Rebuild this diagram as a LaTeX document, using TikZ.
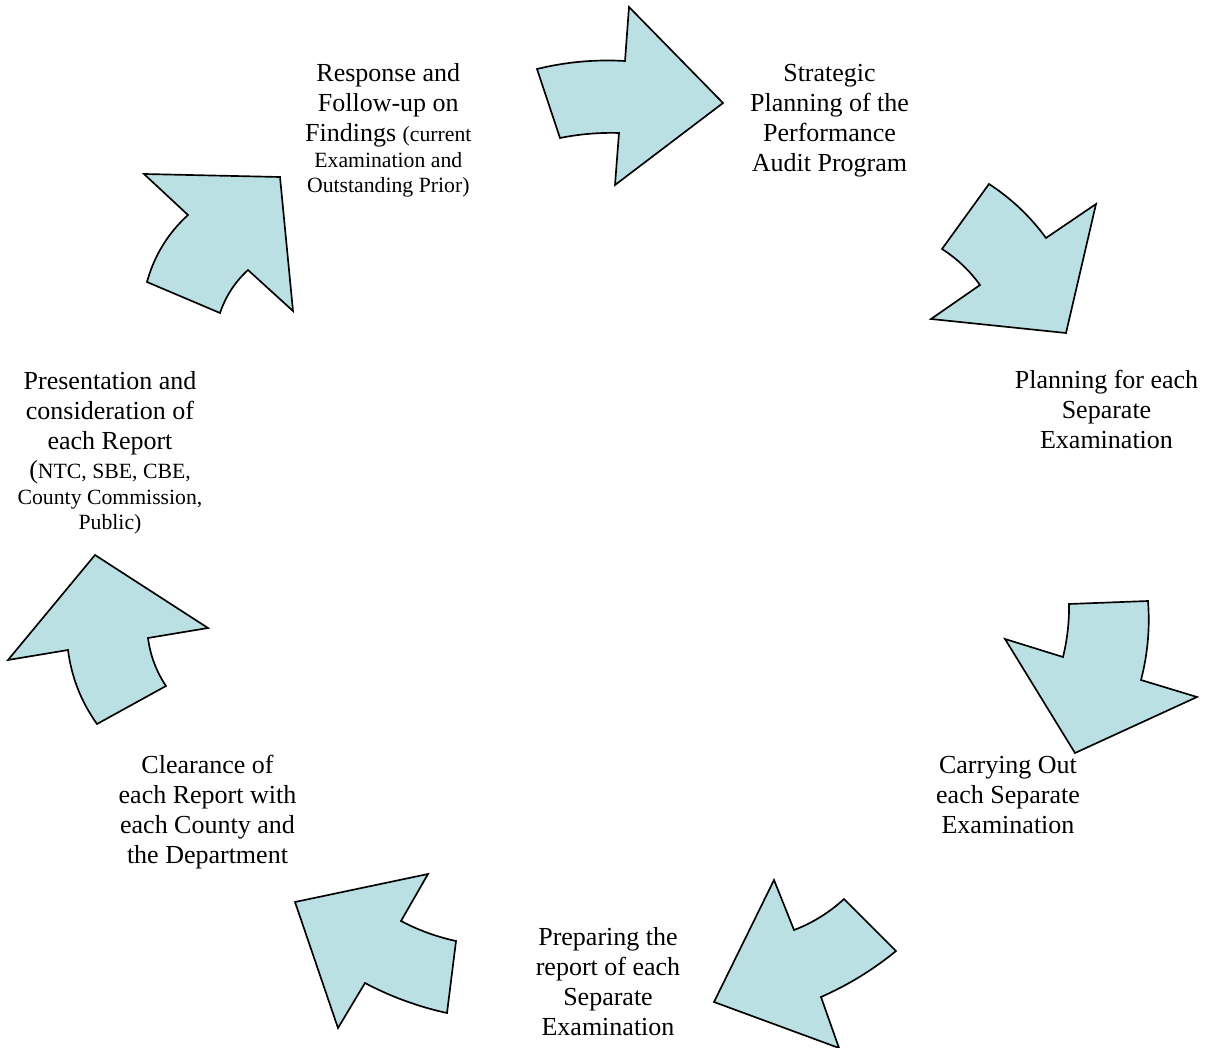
\documentclass[tikz,border=0pt]{standalone}
\usepackage{fontspec}
\setmainfont{Liberation Serif}
\usetikzlibrary{calc}
\definecolor{arrowfill}{HTML}{BBE0E3}
\newcommand{\lblbig}{\fontsize{19.5}{22.5}\selectfont}
\newcommand{\lblsmall}{\fontsize{16.3}{18.75}\selectfont}
\begin{document}
\begin{tikzpicture}[x=0.75pt,y=-0.75pt,
  arrowshape/.style={fill=arrowfill, draw=black, line width=1.25pt, line join=miter},
  lbl/.style={align=center, inner sep=0pt, font=\lblbig},
  arcto/.style args={#1 via #2}{insert path={.. controls ($(\tikztostart)!0.6667!(#2)$) and ($(#1)!0.6667!(#2)$) .. (#1)}}]
\useasboundingbox (0,0) rectangle (1217,1048);

% Arrow 1 (top, pointing right)
\draw[arrowshape] (537,69) .. controls ($(537,69)!0.6667!(580.4,58.4)$) and ($(625,61)!0.6667!(580.4,58.4)$) .. (625,61)
  -- (629,7) -- (723,103) -- (615,185) -- (619,133)
  .. controls ($(619,133)!0.6667!(589.2,132.1)$) and ($(560,138)!0.6667!(589.2,132.1)$) .. (560,138) -- cycle;
% Arrow 2 (upper right, pointing down-right)
\draw[arrowshape] (989,184) .. controls ($(989,184)!0.6667!(1022.5,205.8)$) and ($(1046,238)!0.6667!(1022.5,205.8)$) .. (1046,238)
  -- (1096,204) -- (1066,333) -- (931,319) -- (980,285)
  .. controls ($(980,285)!0.6667!(964.4,263.4)$) and ($(942,249)!0.6667!(964.4,263.4)$) .. (942,249) -- cycle;
% Arrow 3 (right, pointing down-left)
\draw[arrowshape] (1069,604) -- (1148,601)
  .. controls ($(1148,601)!0.6667!(1151.1,641.1)$) and ($(1141,680)!0.6667!(1151.1,641.1)$) .. (1141,680)
  -- (1197,697) -- (1075,753) -- (1005,639) -- (1063,657)
  .. controls ($(1063,657)!0.6667!(1069.4,630.9)$) and ($(1069,604)!0.6667!(1069.4,630.9)$) .. (1069,604) -- cycle;
% Arrow 4 (bottom right, pointing down-left)
\draw[arrowshape] (774,880) -- (794,930)
  .. controls ($(794,930)!0.6667!(822,919.3)$) and ($(844,899)!0.6667!(822,919.3)$) .. (844,899)
  -- (896,951)
  .. controls ($(896,951)!0.6667!(861.6,979.1)$) and ($(821,997)!0.6667!(861.6,979.1)$) .. (821,997)
  -- (839,1048) -- (714,1002) -- cycle;
% Arrow 5 (bottom left, pointing up-left)
\draw[arrowshape] (295,902) -- (428,874) -- (401,921)
  .. controls ($(401,921)!0.6667!(427.1,934.8)$) and ($(456,941)!0.6667!(427.1,934.8)$) .. (456,941)
  -- (447,1013)
  .. controls ($(447,1013)!0.6667!(403.9,1003.6)$) and ($(365,983)!0.6667!(403.9,1003.6)$) .. (365,983)
  -- (338,1028) -- cycle;
% Arrow 6 (left, pointing up)
\draw[arrowshape] (95,555) -- (208,628) -- (148,638)
  .. controls ($(148,638)!0.6667!(151.4,664.1)$) and ($(166,686)!0.6667!(151.4,664.1)$) .. (166,686)
  -- (97,724)
  .. controls ($(97,724)!0.6667!(73.2,690.7)$) and ($(68,650)!0.6667!(73.2,690.7)$) .. (68,650)
  -- (8,660) -- cycle;
% Arrow 7 (upper left, pointing up-right)
\draw[arrowshape] (144,174) -- (280,177) -- (293,311) -- (248,270)
  .. controls ($(248,270)!0.6667!(228.5,287.9)$) and ($(220,313)!0.6667!(228.5,287.9)$) .. (220,313)
  -- (147,282)
  .. controls ($(147,282)!0.6667!(157.8,242.5)$) and ($(188,215)!0.6667!(157.8,242.5)$) .. (188,215) -- cycle;

% Labels
\node[lbl] (resp) at (388.3,130.6) {Response and\\Follow-up on\\Findings {\lblsmall(current}\\[-3pt]{\lblsmall Examination and}\\[-3.75pt]{\lblsmall Outstanding Prior)}};
\node[lbl] (strat) at (829.5,120.7) {Strategic\\Planning of the\\Performance\\Audit Program};
\node[lbl] (plan) at (1106.5,409.1) {Planning for each\\Separate\\Examination};
\node[lbl] (carry) at (1008,795) {Carrying Out\\each Separate\\Examination};
\node[lbl] (prep) at (608,982) {Preparing the\\report of each\\Separate\\Examination};
\node[lbl] (clear) at (207.5,812) {Clearance of\\each Report with\\each County and\\the Department};
\node[lbl] (pres) at (110,453) {Presentation and\\consideration of\\each Report\\[-0.75pt]({\lblsmall NTC, SBE, CBE,}\\[-3.4pt]{\lblsmall County Commission,}\\[-3.75pt]{\lblsmall Public)}};
\end{tikzpicture}
\end{document}
